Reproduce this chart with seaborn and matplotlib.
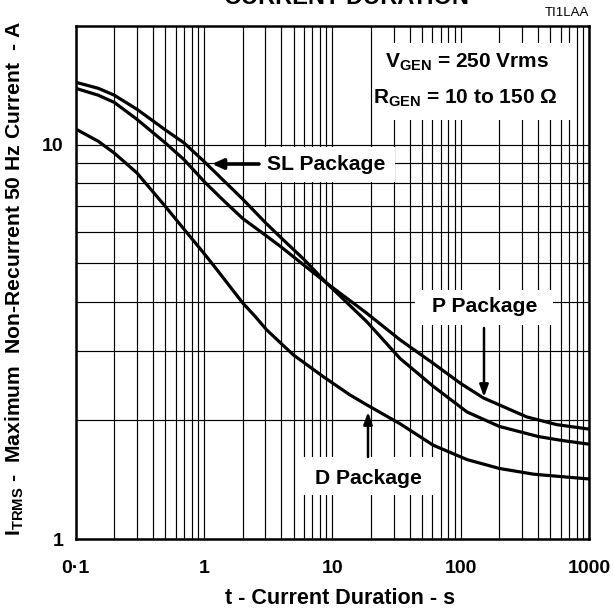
import numpy as np
import pandas as pd
import matplotlib
matplotlib.use("Agg")
import matplotlib.pyplot as plt
from matplotlib.patches import Rectangle
from matplotlib.ticker import FixedLocator, NullFormatter, FixedFormatter
import seaborn as sns

# ---- data ----
sl_t = [0.1, 0.15, 0.2, 0.3, 0.5, 0.7, 1.0, 1.4, 2.0, 3.0, 4.0, 6.0, 9.0, 18.5, 33.7, 61.0, 112.0, 200.0, 400.0, 600.0, 1000.0]
sl_i = [14.4, 13.9, 13.35, 12.3, 10.9, 10.1, 9.07, 8.15, 7.28, 6.35, 5.8, 5.12, 4.46, 3.56, 2.87, 2.44, 2.10, 1.93, 1.82, 1.78, 1.74]

p_t = [0.1, 0.15, 0.2, 0.3, 0.5, 0.7, 1.0, 1.4, 2.0, 3.0, 4.0, 6.0, 9.0, 18.5, 33.7, 61.0, 100.0, 150.0, 327.0, 561.0, 1000.0]
p_i = [13.9, 13.35, 12.8, 11.6, 10.1, 9.16, 8.07, 7.25, 6.5, 5.9, 5.5, 4.95, 4.46, 3.74, 3.2, 2.79, 2.48, 2.28, 2.04, 1.95, 1.90]

d_t = [0.1, 0.15, 0.2, 0.3, 0.5, 0.7, 1.0, 1.26, 2.0, 2.5, 3.08, 4.0, 4.97, 8.5, 13.7, 18.5, 33.7, 61.0, 112.0, 200.0, 370.0, 600.0, 1000.0]
d_i = [10.96, 10.2, 9.52, 8.48, 6.97, 6.1, 5.3, 4.82, 3.97, 3.67, 3.39, 3.13, 2.93, 2.58, 2.32, 2.19, 1.96, 1.73, 1.59, 1.51, 1.46, 1.44, 1.42]

x_ticks = [0.1, 1, 10, 100, 1000]
x_ticklabels = ["0·1", "1", "10", "100", "1000"]
y_ticks = [1, 10]
y_ticklabels = ["1", "10"]

df = pd.concat([
    pd.DataFrame({"t": sl_t, "I": sl_i, "pkg": "SL"}),
    pd.DataFrame({"t": p_t, "I": p_i, "pkg": "P"}),
    pd.DataFrame({"t": d_t, "I": d_i, "pkg": "D"}),
])

sns.set_theme(style="white")
plt.rcParams["font.family"] = ["Liberation Sans", "DejaVu Sans"]
plt.rcParams["mathtext.fontset"] = "custom"
plt.rcParams["mathtext.rm"] = "Liberation Sans:bold"
plt.rcParams["mathtext.bf"] = "Liberation Sans:bold"
plt.rcParams["mathtext.it"] = "Liberation Sans:bold"

W = H = 613
fig = plt.figure(figsize=(6.13, 6.13), dpi=100)
L, R, T, B = 75.7, 589.0, 26.0, 539.0
ax = fig.add_axes([L / W, (H - B) / H, (R - L) / W, (B - T) / H])

sns.lineplot(data=df, x="t", y="I", hue="pkg", units="pkg", estimator=None,
             palette={"SL": "black", "P": "black", "D": "black"},
             linewidth=2.3, legend=False, ax=ax, zorder=4, sort=False)
for ln in ax.get_lines():
    ln.set_solid_joinstyle("round")

ax.set_xscale("log")
ax.set_yscale("log")
ax.set_xlim(0.1, 1000)
ax.set_ylim(1, 20)

# grid
xgrid = [m * 10.0 ** e for e in range(-1, 3) for m in range(1, 10)] + [1000]
ygrid = [float(v) for v in range(1, 11)]
ax.xaxis.set_major_locator(FixedLocator(x_ticks))
ax.xaxis.set_major_formatter(FixedFormatter(x_ticklabels))
ax.xaxis.set_minor_locator(FixedLocator(xgrid))
ax.xaxis.set_minor_formatter(NullFormatter())
ax.yaxis.set_major_locator(FixedLocator(y_ticks))
ax.yaxis.set_major_formatter(FixedFormatter(y_ticklabels))
ax.yaxis.set_minor_locator(FixedLocator(ygrid))
ax.yaxis.set_minor_formatter(NullFormatter())
ax.grid(which="both", color="black", linewidth=0.85, zorder=1)
ax.set_axisbelow(True)
ax.tick_params(which="both", length=0)
ax.tick_params(axis="x", pad=15, labelsize=14)
ax.tick_params(axis="y", pad=9, labelsize=14)
for lab in ax.get_xticklabels() + ax.get_yticklabels():
    lab.set_fontweight("bold")
    lab.set_color("black")
for s in ax.spines.values():
    s.set_color("black")
    s.set_linewidth(1.8)
ax.set_xlabel("")
ax.set_ylabel("")

def frac(px, py):
    return ((px - L) / (R - L), (B - py) / (B - T))

def white_box(x0, y0, x1, y1):
    (fx0, fy1) = frac(x0, y0)
    (fx1, fy0) = frac(x1, y1)
    ax.add_patch(Rectangle((fx0, fy0), fx1 - fx0, fy1 - fy0, transform=ax.transAxes,
                           facecolor="white", edgecolor="none", zorder=3))

fs = 15.2
# SL package
white_box(255, 147, 395, 182)
ax.text(*frac(326.5, 164), "SL Package", transform=ax.transAxes, ha="center", va="center",
        fontsize=fs, fontweight="bold", color="black", zorder=5)
ax.annotate("", xy=frac(212, 164), xytext=frac(259, 164), xycoords="axes fraction",
            textcoords="axes fraction",
            arrowprops=dict(arrowstyle="-|>,head_length=0.55,head_width=0.25", lw=2.6, color="black",
                            shrinkA=0, shrinkB=0), zorder=5)

# VGEN / RGEN
white_box(373, 43, 576, 120)
ax.text(*frac(467, 62), r"V$_{\mathrm{GEN}}$ = 250 Vrms", transform=ax.transAxes, ha="center",
        va="center", fontsize=15, fontweight="bold", color="black", zorder=5)
ax.text(*frac(465, 98), r"R$_{\mathrm{GEN}}$ = 10 to 150 Ω", transform=ax.transAxes, ha="center",
        va="center", fontsize=15, fontweight="bold", color="black", zorder=5)

# P package
white_box(415, 290, 553, 325)
ax.text(*frac(485, 307), "P Package", transform=ax.transAxes, ha="center", va="center",
        fontsize=fs, fontweight="bold", color="black", zorder=5)
ax.annotate("", xy=frac(484, 397), xytext=frac(484, 328), xycoords="axes fraction",
            textcoords="axes fraction",
            arrowprops=dict(arrowstyle="-|>,head_length=0.6,head_width=0.22", lw=1.8, color="black",
                            shrinkA=0, shrinkB=0), zorder=5)

# D package
white_box(298, 457, 437, 495)
ax.text(*frac(368.5, 478), "D Package", transform=ax.transAxes, ha="center", va="center",
        fontsize=fs, fontweight="bold", color="black", zorder=5)
ax.annotate("", xy=frac(368, 412), xytext=frac(368, 457), xycoords="axes fraction",
            textcoords="axes fraction",
            arrowprops=dict(arrowstyle="-|>,head_length=0.6,head_width=0.22", lw=1.8, color="black",
                            shrinkA=0, shrinkB=0), zorder=5)

# figure-level texts
fig.text(589 / W, 1 - 13 / H, "TI1LAA", ha="right", va="center", fontsize=9.5, color="black")
fig.text(346 / W, 1 - 4 / H, "CURRENT DURATION", ha="center", va="baseline", fontsize=17,
         fontweight="bold", color="black")
fig.text(340 / W, 1 - 598 / H, "t - Current Duration - s", ha="center", va="center",
         fontsize=15.5, fontweight="bold", color="black")
fig.text(15 / W, 1 - 279 / H, r"I$_{\mathrm{TRMS}}$ -  Maximum  Non-Recurrent 50 Hz Current  - A",
         ha="center", va="center", rotation=90, fontsize=15.2, fontweight="bold", color="black")

fig.savefig("out.png", dpi=100, facecolor="white")
